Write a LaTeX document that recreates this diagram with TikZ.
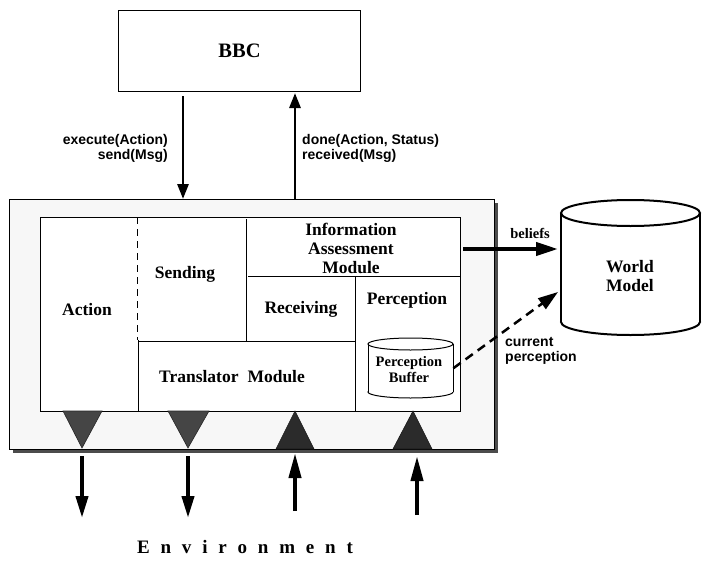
\documentclass[tikz,border=0pt]{standalone}
\usepackage{fontspec}
\setmainfont{Liberation Serif}
\setsansfont{Liberation Sans}
\usetikzlibrary{arrows.meta,calc}
\begin{document}
\begin{tikzpicture}[x=1pt,y=-1pt,
  box/.style={draw, line width=1pt, inner sep=0, anchor=north west},
  serif/.style={font=\bfseries\fontsize{17.5}{19}\selectfont, align=center, inner sep=0},
  serifsmall/.style={font=\bfseries\fontsize{14.5}{16}\selectfont, align=center, inner sep=0},
  sanslab/.style={font=\sffamily\bfseries\fontsize{14}{15}\selectfont, inner sep=0},
  toparr/.style={line width=2.8pt, -{Triangle[length=15pt,width=11pt]}},
  botarr/.style={line width=4pt, -{Triangle[length=22pt,width=12pt]}},
  botarrup/.style={line width=4pt, -{Triangle[length=25pt,width=12pt]}},
  outtri/.style={fill=black!73, draw=black!85, line width=0.6pt},
  intri/.style={fill=black!83, draw=black!90, line width=0.6pt},
  divline/.style={line width=1pt}
]
\useasboundingbox (0,0) rectangle (702,565);

% BBC
\node[box, minimum width=242pt, minimum height=81pt] (bbc) at (118,10) {};
\node[font=\bfseries\fontsize{20.5}{22}\selectfont, inner sep=0] (bbct) at (bbc.center) {BBC};

% outer box with shadow
\fill[black!70] (13,203) rectangle (498,453);
\node[box, fill=black!3, minimum width=485pt, minimum height=250pt] (outer) at (9,199) {};

% inner box
\node[box, fill=white, minimum width=420pt, minimum height=194pt] (inner) at (40,217) {};

% internal divisions
\draw[divline, dashed, dash pattern=on 7pt off 5pt] (137,217) -- (137,340);
\draw[divline] (138,340) -- (138,411);
\draw[divline] (246,219) -- (246,341);
\draw[divline] (138,341) -- (355,341);
\draw[divline] (248,276) -- (460,276);
\draw[divline] (355,276) -- (355,411);

% labels inside
\node[serif] (action) at (87,310) {Action};
\node[serif] (sending) at (185,274) {Sending};
\node[serif] (iam) at (351,248) {Information\\Assessment\\Module};
\node[serif] (receiving) at (301,309) {Receiving};
\node[serif] (perception) at (407,300) {Perception};
\node[serif] (translator) at (232,377) {Translator\hspace{9pt}Module};

% perception buffer cylinder
\node[inner sep=0, minimum width=85pt, minimum height=60pt, anchor=north west] (pbuf) at (368,338) {};
\filldraw[fill=white, line width=1pt] (410.5,392) ellipse [x radius=42.5, y radius=6];
\fill[white] (368,344) rectangle (453,392);
\draw[line width=1pt] (368,344) -- (368,392) (453,344) -- (453,392);
\filldraw[fill=white, line width=1pt] (410.5,344) ellipse [x radius=42.5, y radius=6];
\node[serifsmall] (pbuft) at (409,370) {Perception\\Buffer};

% triangles on bottom edge
\draw[outtri] (63,411) -- (102,411) -- (82,448) -- cycle;
\draw[outtri] (168,411) -- (209,411) -- (188,448) -- cycle;
\draw[intri] (276,449) -- (314,449) -- (295,411) -- cycle;
\draw[intri] (393,449) -- (432,449) -- (413,411) -- cycle;

% BBC arrows
\coordinate (xa) at (183,0);
\coordinate (xb) at (295,0);
\draw[toparr, shorten <=4pt] (xa |- bbc.south) -- (xa |- outer.north);
\draw[toparr, shorten >=1pt] (xb |- outer.north) -- (xb |- bbc.south);
\node[sanslab, align=right, anchor=east] (lab1) at (168,148.5) {execute(Action)\\send(Msg)};
\node[sanslab, align=left, anchor=west] (lab2) at (302,148.5) {done(Action, Status)\\received(Msg)};

% bottom arrows
\coordinate (e1) at (82,518);
\coordinate (e2) at (188,518);
\coordinate (e3) at (295,511);
\coordinate (e4) at (417,515);
\draw[botarr, shorten <=6pt] (e1 |- outer.south) -- (e1);
\draw[botarr, shorten <=6pt] (e2 |- outer.south) -- (e2);
\draw[botarrup, shorten >=3pt] (e3) -- (e3 |- outer.south);
\draw[botarrup, shorten >=6pt] (e4) -- (e4 |- outer.south);

\node[font=\bfseries\fontsize{19}{21}\selectfont, inner sep=0] (env) at (245,547)
  {E\hspace{10.8pt}n\hspace{10.8pt}v\hspace{10.8pt}i\hspace{10.8pt}r\hspace{10.8pt}o\hspace{10.8pt}n\hspace{10.8pt}m\hspace{10.8pt}e\hspace{10.8pt}n\hspace{10.8pt}t};

% World model cylinder
\node[inner sep=0, minimum width=139pt, minimum height=135pt, anchor=north west] (wm) at (561,200) {};
\filldraw[fill=white, line width=2pt] (630.5,322) ellipse [x radius=69.5, y radius=13];
\fill[white] (561,213) rectangle (700,322);
\draw[line width=2pt] (561,213) -- (561,322) (700,213) -- (700,322);
\filldraw[fill=white, line width=2pt] (630.5,213) ellipse [x radius=69.5, y radius=13];
\node[serif] (wmt) at (630,276) {World\\Model};

% beliefs
\coordinate (by) at (0,249);
\draw[line width=4pt, -{Triangle[length=22pt,width=13pt]}, shorten <=2pt, shorten >=3pt] (by -| inner.east) -- (by -| wm.west);
\node[serifsmall] (beliefs) at (530,233) {beliefs};

% current perception
\coordinate (cpend) at (558,292);
\draw[line width=2.5pt, dash pattern=on 9pt off 6pt, -{Triangle[length=20pt,width=13pt]}] (pbuf.east) -- (cpend);
\node[sanslab, align=left, anchor=west] (cplab) at (505,350.5) {current\\perception};

\end{tikzpicture}
\end{document}
